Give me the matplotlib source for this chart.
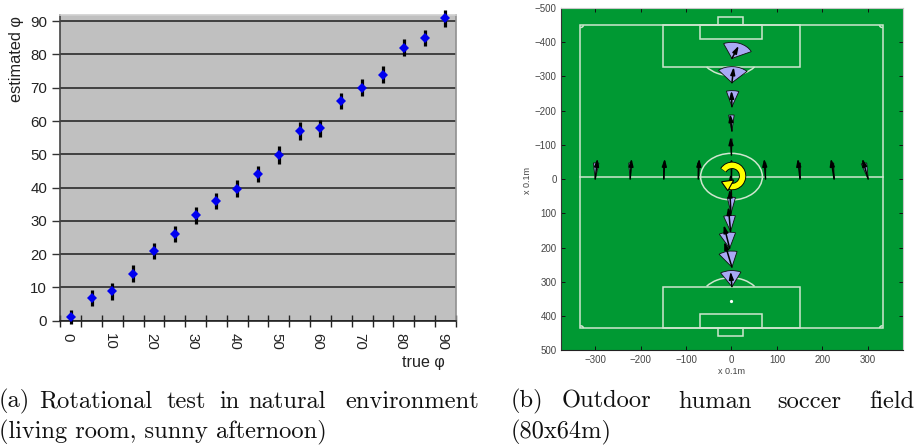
import matplotlib
matplotlib.use("Agg")
import matplotlib.pyplot as plt
from matplotlib.patches import Rectangle, Arc, Wedge, Polygon, Ellipse

W, H = 917, 445

# ---- left chart data
true_phi = [0, 5, 10, 15, 20, 25, 30, 35, 40, 45, 50, 55, 60, 65, 70, 75, 80, 85, 90]
est_phi = [1.1, 6.8, 8.8, 14.1, 21, 26, 31.7, 36, 39.7, 44, 49.7, 57, 57.8, 66, 70, 73.9, 82, 85, 90.8]
est_err = [2.2, 2.3, 2.5, 2.5, 2.4, 2.4, 2.6, 2.3, 2.6, 2.4, 2.7, 2.6, 2.6, 2.4, 2.6, 2.5, 2.5, 2.4, 2.5]
y_ticks = [0, 10, 20, 30, 40, 50, 60, 70, 80, 90]
x_labels = ["0", "10", "20", "30", "40", "50", "60", "70", "80", "90"]

# ---- right chart data (x 0.1 m)
robot_x = [-300, -223, -149, -73, 0, 75, 151, 226, 301,
           1, 1, 1, 1, 0,
           0, -1, -2, -4, 1, 1]
robot_y = [0, 0, 0, 0, 0, 0, 0, 0, 0,
           -352, -281, -211, -140, -70,
           47, 100, 153, 202, 257, 314]
tip_x = [-295, -220, -147, -71, 0, 72, 146, 219, 288,
         16, 5, 0, -3, -2,
         -2, -4, -7, -17, -16, -2]
tip_y = [-60, -60, -60, -60, -60, -60, -60, -60, -60,
         -389, -327, -258, -190, -123,
         -15, 30, 81, 134, 183, 270]
fan_lo = [-5, -4, -1, -2, -1, -1, -1, -3, -19,
          -23, -39, -15, -9, -2,
          -1, -10, -19, -29, -37, -32]
fan_hi = [10, 4, 1, 2, 1, 1, 1, -1, -4,
          65, 45, 19, 6, 2,
          1, 12, 13, 16, 14, 25]
fan_radius = 47
field_ticks_x = [-300, -200, -100, 0, 100, 200, 300]
field_ticks_y = [-500, -400, -300, -200, -100, 0, 100, 200, 300, 400, 500]

# ---- captions: (left pixel, word)
caption_a = [(-1, "(a)"), (39, "Rotational"), (167, "test"), (219, "in"), (248, "natural"), (345, "environment")]
caption_b = [(511, "(b)"), (562, "Outdoor"), (678, "human"), (777, "soccer"), (869, "field")]
caption_a2 = "(living room, sunny afternoon)"
caption_b2 = "(80x64m)"

plt.rcParams["font.family"] = ["Liberation Sans", "DejaVu Sans"]
fig = plt.figure(figsize=(W / 100, H / 100), dpi=100)


def axes_px(left, top, right, bottom):
    return fig.add_axes([left / W, 1 - bottom / H, (right - left) / W, (bottom - top) / H])


# ======== left chart
ax = axes_px(60.3, 14.5, 455.8, 320.7)
ax.set_facecolor("#C0C0C0")
idx = list(range(len(true_phi)))
ax.set_xlim(-0.5, len(true_phi) - 0.5)
ax.set_ylim(0, 92)
ax.set_yticks(y_ticks)
ax.grid(axis="y", color="#2a2a2a", lw=1.2, zorder=1)
ax.set_axisbelow(True)
ax.errorbar(idx, est_phi, yerr=est_err, fmt="none", ecolor="black", elinewidth=2.3,
            clip_on=False, zorder=3)
ax.plot(idx, est_phi, ls="none", marker="D", ms=4.8, mfc="#0000F0", mec="#0000F0", mew=0,
        clip_on=False, zorder=4)
ax.set_xticks([i - 0.14 for i in idx[::2]])
ax.set_xticklabels(x_labels, rotation=270, fontsize=10.8, color="#222222")
ax.set_xticks([i - 0.5 for i in idx] + [idx[-1] + 0.5], minor=True)
ax.tick_params(axis="x", which="major", length=0, pad=9)
ax.tick_params(axis="x", which="minor", length=9, width=1.0, direction="inout", color="#222222")
ax.tick_params(axis="y", length=5.5, width=1.0, color="#333333", labelsize=10.8, labelcolor="#222222", pad=4)
for s, c in (("left", "#444444"), ("bottom", "#222222"), ("top", "#D0D0D0"), ("right", "#909090")):
    ax.spines[s].set_color(c)
    ax.spines[s].set_linewidth(1.2)
fig.text(17 / W, 1 - 59 / H, "estimated φ", rotation=90, ha="center", va="center", fontsize=11.8, color="#222222")
fig.text(423 / W, 1 - 363 / H, "true φ", ha="center", va="center", fontsize=11.6, color="#222222")

# ======== right chart
bx = axes_px(560.7, 7.7, 902.7, 350.4)
bx.set_facecolor("#009933")
bx.set_xlim(-376, 377)
bx.set_ylim(500, -500)
bx.set_xticks(field_ticks_x)
bx.set_yticks(field_ticks_y)
bx.tick_params(axis="both", which="both", direction="in", length=3, width=0.7, labelsize=7,
               labelcolor="#444444", color="#111111", top=True, right=True, pad=3)
for s, c in (("left", "#333333"), ("bottom", "#222222"), ("top", "#C8C8C8"), ("right", "#C8C8C8")):
    bx.spines[s].set_color(c)
    bx.spines[s].set_linewidth(0.8)
fig.text(731 / W, 1 - 372 / H, "x 0.1m", ha="center", va="center", fontsize=6.5, color="#444444")
fig.text(527 / W, 1 - 180 / H, "x 0.1m", rotation=90, ha="center", va="center", fontsize=6.5, color="#444444")

line_col = "#CFE6CF"
line = dict(edgecolor=line_col, facecolor="none", lw=1.1, zorder=2)
rects = [(-333, -449, 666, 884), (-150, -449, 300, 122), (-69, -449, 136, 41), (-29, -473, 54, 24),
         (-150, 314, 300, 121), (-69, 394, 136, 41), (-29, 435, 54, 23)]
for x0, y0, w, h in rects:
    bx.add_patch(Rectangle((x0, y0), w, h, **line))
bx.plot([-333, 333], [-7, -7], color=line_col, lw=1.1, zorder=2)
bx.add_patch(Ellipse((0, -7), 136, 136, **line))
bx.add_patch(Arc((-2, -370), 136, 136, theta1=39, theta2=141, **line))
bx.add_patch(Arc((-2, 356), 136, 136, theta1=219, theta2=321, **line))
for cx, cy, t1 in ((-333, -449, 0), (333, -449, 90), (333, 435, 180), (-333, 435, 270)):
    bx.add_patch(Arc((cx, cy), 14, 14, theta1=t1, theta2=t1 + 90, **line))
bx.plot([-2], [356], ls="none", marker="o", ms=1.3, mfc="white", mec="white", zorder=2)

for x0, y0, x1, y1, lo, hi in zip(robot_x, robot_y, tip_x, tip_y, fan_lo, fan_hi):
    bx.add_patch(Wedge((x0, y0), fan_radius, lo - 90, hi - 90, facecolor="#A9A9F5",
                       edgecolor="#101010", lw=0.6, zorder=3))
for x0, y0, x1, y1 in zip(robot_x, robot_y, tip_x, tip_y):
    bx.annotate("", xy=(x1, y1), xytext=(x0, y0), zorder=4,
                arrowprops=dict(arrowstyle="-|>,head_length=0.55,head_width=0.17", color="black",
                                lw=1.1, shrinkA=0, shrinkB=0, mutation_scale=8))

# yellow circular arrow at the centre spot
bx.add_patch(Arc((1.5, -9), 46, 62, theta1=-140, theta2=100, edgecolor="black", lw=5.2, zorder=5, capstyle="butt"))
bx.add_patch(Arc((1.5, -9), 46, 62, theta1=-138, theta2=99, edgecolor="#FFFF00", lw=3.9, zorder=6, capstyle="butt"))
bx.add_patch(Polygon([(-22, 8), (5, 3), (-8, 34)], closed=True, facecolor="#FFFF00",
                     edgecolor="black", lw=0.8, zorder=7))

# ======== captions
cap = dict(family="cmr10", fontsize=17.6, color="#111111", ha="left", va="baseline")
for x, word in caption_a + caption_b:
    fig.text(x / W, 1 - 407.7 / H, word, **cap)
fig.text(-1 / W, 1 - 438 / H, caption_a2, **cap)
fig.text(511 / W, 1 - 438 / H, caption_b2, **cap)

fig.savefig("out.png", dpi=100)
